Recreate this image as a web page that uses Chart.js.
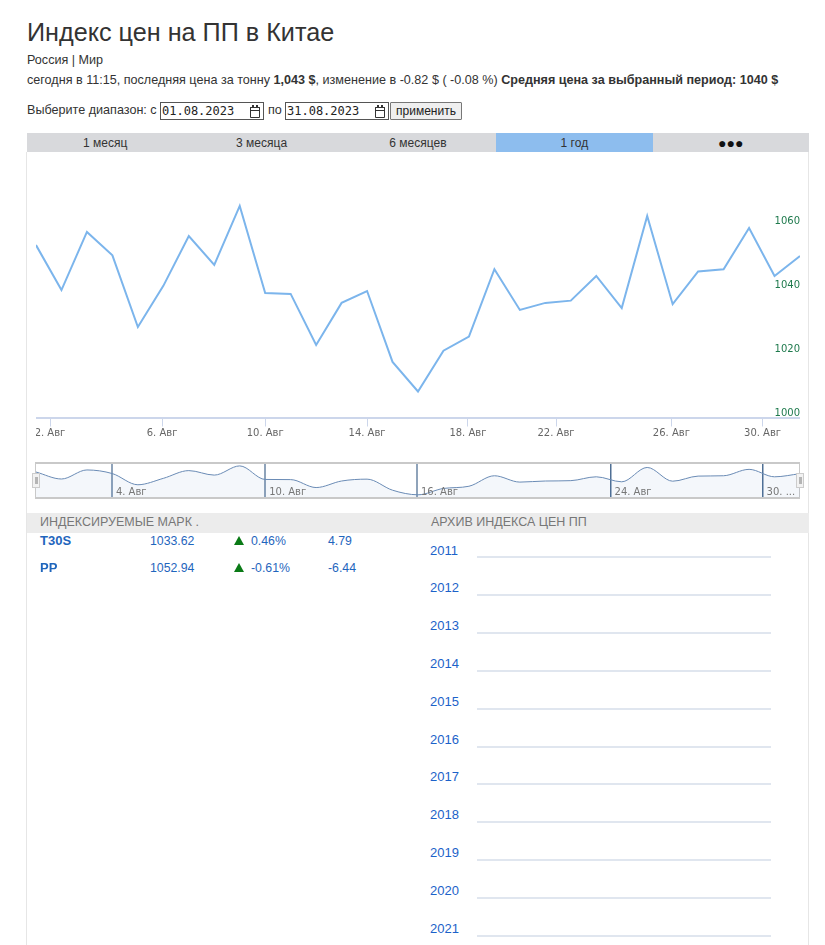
<!DOCTYPE html>
<html lang="ru">
<head>
<meta charset="UTF-8"/>
<title>Индекс цен на ПП в Китае</title>
<script src="https://cdn.jsdelivr.net/npm/chart.js@4/dist/chart.umd.min.js"></script>
<style>
  *{box-sizing:border-box;margin:0;padding:0}
  html,body{width:825px;height:945px;overflow:hidden;background:#fff}
  body{font-family:"Liberation Sans",Arial,sans-serif;font-size:12.6px;color:#333;position:relative}
  .abs{position:absolute;white-space:nowrap}
  h1{font-size:25.2px;font-weight:400;line-height:30px;color:#333}
  .frame-line{position:absolute;top:152px;width:1px;height:793px;background:#e6e6e6}
  .tabs{position:absolute;left:27px;top:133px;width:782px;height:19px;background:#d8d9dc;display:flex;font-size:12px}
  .tab{width:156.4px;text-align:center;line-height:20px;color:#333}
  .tab.on{background:#8dbdee}
  .tab.more{font-size:14px;color:#111}
  .field{position:absolute;top:102px;height:18px;border:1px solid #555;background:#fff;font:12px/16px "DejaVu Sans Mono",monospace;padding-left:1px;color:#222}
  .field svg{position:absolute;right:3px;top:2px}
  .btn{position:absolute;left:390px;top:102px;width:72px;height:18px;border:1px solid #777;border-radius:1px;background:#efefef;text-align:center;line-height:17px;color:#222;font-size:12px}
  canvas{position:absolute;display:block}
  #navFrame{position:absolute;left:35px;top:462px;width:765px;height:37px;border:solid #c9c9c9;border-width:2px 1px}
  .handle{position:absolute;top:473px;width:8px;height:15px;background:#f2f2f2;border:1px solid #ccc}
  .handle i{position:absolute;left:2px;top:3px;width:3px;height:7px;background:#b5b5b5}
  .bar{position:absolute;left:27px;top:513px;width:782px;height:20px;background:#ececec}
  .bar span{position:absolute;top:2px;color:#777;font-size:12.5px;white-space:nowrap}
  .cell{position:absolute;color:#1f66bd;white-space:nowrap;font-size:12.3px}
  b.cell{font-size:13px;margin-top:-1px}
  .tri{position:absolute;width:0;height:0;border-left:5px solid transparent;border-right:5px solid transparent;border-bottom:9px solid #0a7a16}
  .year{position:absolute;left:430px;color:#1c62c9;white-space:nowrap;font-size:13px}
  .rule{position:absolute;left:477px;width:294px;height:2px;background:#e0e6ef}
</style>
</head>
<body>

<h1 class="abs" style="left:27px;top:17px">Индекс цен на ПП в Китае</h1>
<div class="abs" style="left:27px;top:53px">Россия | Мир</div>
<div class="abs" style="left:27px;top:73px">сегодня в 11:15, последняя цена за тонну <b>1,043 $</b>, изменение в -0.82 $ ( -0.08 %) <b>Средняя цена за выбранный период: 1040 $</b></div>
<div class="abs" style="left:27px;top:103px">Выберите диапазон: с</div>
<div class="field" style="left:160px;width:104px">01.08.2023<svg width="10" height="13" viewBox="0 0 10 13"><path d="M.5 2.5h9v10h-9zM.5 2.5h9v3h-9z" fill="none" stroke="#333"/><path d="M2 0h2v3H2zM6 0h2v3H6z" fill="#333"/></svg></div>
<div class="abs" style="left:268px;top:103px">по</div>
<div class="field" style="left:285px;width:104px">31.08.2023<svg width="10" height="13" viewBox="0 0 10 13"><path d="M.5 2.5h9v10h-9zM.5 2.5h9v3h-9z" fill="none" stroke="#333"/><path d="M2 0h2v3H2zM6 0h2v3H6z" fill="#333"/></svg></div>
<div class="btn">применить</div>

<div class="tabs" id="tabs"></div>
<div class="frame-line" style="left:26px"></div>
<div class="frame-line" style="left:808px"></div>

<canvas id="priceChart" style="left:36px;top:152px" width="764" height="290"></canvas>
<div id="navFrame"></div>
<canvas id="navChart" style="left:36px;top:464px" width="764" height="33"></canvas>
<div class="handle" style="left:32px"><i></i></div>
<div class="handle" style="left:796px"><i></i></div>

<div class="bar"><span style="left:13px">ИНДЕКСИРУЕМЫЕ МАРК .</span><span style="left:404px">АРХИВ ИНДЕКСА ЦЕН ПП</span></div>
<div id="rows"></div>
<div id="archive"></div>

<script>
// ── Data ─────────────────────────────────────────────────────────────────────
const days = [1,2,3,4,5,6,7,8,9,10,11,12,13,14,15,16,17,18,19,20,21,22,23,24,25,26,27,28,29,30,31];
const prices = [1052.0,1038.0,1056.1,1048.8,1026.5,1039.3,1054.8,1045.8,1064.2,1037.1,1036.8,1020.9,1034.0,1037.7,1015.6,1006.4,
  1019.1,1023.5,1044.5,1031.8,1034.0,1034.7,1042.4,1032.4,1061.1,1033.6,1043.8,1044.5,1057.3,1042.4,1048.6];

const yTicks = [1000,1020,1040,1060];
const xTickDays = [1.55,5.95,10,14,17.96,21.42,25.95,29.53];
const xTickLabels = ["2. Авг","6. Авг","10. Авг","14. Авг","18. Авг","22. Авг","26. Авг","30. Авг"];
const navTickDays = [3.98,10,15.96,23.56,29.53];
const navTickLabels = ["4. Авг","10. Авг","16. Авг","24. Авг","30. ..."];

const tabs = ["1 месяц","3 месяца","6 месяцев","1 год","●●●"];
const grades = ["T30S","PP"];
const gradePrices = ["1033.62","1052.94"];
const gradePercents = ["0.46%","-0.61%"];
const gradeChanges = ["4.79","-6.44"];
const archiveYears = [2011,2012,2013,2014,2015,2016,2017,2018,2019,2020,2021];

// ── HTML parts ───────────────────────────────────────────────────────────────
document.getElementById("tabs").innerHTML = tabs.map((t, i) =>
  `<div class="tab${i === 3 ? " on" : ""}${i === 4 ? " more" : ""}">${t}</div>`).join("");

document.getElementById("rows").innerHTML = grades.map((g, i) => {
  const top = 534 + i * 27;
  return `<b class="cell" style="left:40px;top:${top}px">${g}</b>
    <div class="cell" style="left:150px;top:${top}px">${gradePrices[i]}</div>
    <div class="tri" style="left:234px;top:${top + 2}px"></div>
    <div class="cell" style="left:251px;top:${top}px">${gradePercents[i]}</div>
    <div class="cell" style="left:328px;top:${top}px">${gradeChanges[i]}</div>`;
}).join("");

document.getElementById("archive").innerHTML = archiveYears.map((y, i) => {
  const top = Math.round(542.5 + i * 37.8);
  return `<div class="year" style="top:${top}px">${y}</div>
    <div class="rule" style="top:${Math.round(556 + i * 37.9)}px"></div>`;
}).join("");

// ── Charts ───────────────────────────────────────────────────────────────────
const points = days.map((d, i) => ({ x: d, y: prices[i] }));
const axisFont = { family: "'DejaVu Sans',sans-serif", size: 10 };

new Chart(document.getElementById("priceChart"), {
  type: "line",
  data: { datasets: [{ data: points, borderColor: "#7cb5ec", borderWidth: 2, pointRadius: 0, tension: 0, clip: 2 }] },
  options: {
    responsive: false,
    animation: false,
    devicePixelRatio: 1,
    layout: { padding: 0 },
    plugins: { legend: { display: false }, tooltip: { enabled: false } },
    scales: {
      x: {
        type: "linear",
        min: 1,
        max: 31,
        afterBuildTicks: axis => { axis.ticks = xTickDays.map(v => ({ value: v })); },
        afterFit: axis => { axis.height = 24.5; axis.paddingLeft = 0; axis.paddingRight = 0; },
        border: { color: "#ccd6eb", width: 2 },
        grid: { drawOnChartArea: false, drawTicks: true, tickLength: 9, tickColor: "#ccd6eb", tickWidth: 1 },
        ticks: { autoSkip: false, maxRotation: 0, padding: 1, color: "#666", font: axisFont, callback: (v, i) => xTickLabels[i] },
      },
      y: {
        position: "right",
        min: 998.3,
        max: 1081,
        afterBuildTicks: axis => { axis.ticks = yTicks.map(v => ({ value: v })); },
        afterFit: axis => { axis.width = 0; axis.paddingTop = 0; axis.paddingBottom = 0; },
        border: { display: false },
        grid: { display: false },
        ticks: { mirror: true, padding: 0, labelOffset: 1.5, color: "#1f7a4d", font: axisFont, callback: v => String(v) },
      },
    },
  },
});

// navigator labels sit inside the plot, so they are drawn after the datasets
const navLabels = {
  id: "navLabels",
  afterDatasetsDraw(chart) {
    const { ctx, scales } = chart;
    ctx.save();
    ctx.font = "10px 'DejaVu Sans',sans-serif";
    ctx.fillStyle = "#777";
    ctx.textBaseline = "middle";
    navTickLabels.forEach((t, i) => ctx.fillText(t, scales.x.getPixelForValue(navTickDays[i]) + 4, 28));
    ctx.restore();
  },
};

new Chart(document.getElementById("navChart"), {
  type: "line",
  plugins: [navLabels],
  data: { datasets: [{ data: points, borderColor: "#6a8bb5", borderWidth: 1, pointRadius: 0, cubicInterpolationMode: "monotone", fill: "start", backgroundColor: "rgba(60,120,180,0.06)" }] },
  options: {
    responsive: false,
    animation: false,
    devicePixelRatio: 1,
    layout: { padding: 0 },
    plugins: { legend: { display: false }, tooltip: { enabled: false } },
    scales: {
      x: {
        type: "linear",
        min: 1,
        max: 31,
        afterBuildTicks: axis => { axis.ticks = navTickDays.map(v => ({ value: v })); },
        afterFit: axis => { axis.height = 0; axis.paddingLeft = 0; axis.paddingRight = 0; },
        border: { display: false },
        grid: {
          drawTicks: false,
          color: ctx => (ctx.index < 3 ? "#8fa3ba" : "#4f6f94"),
          lineWidth: ctx => (ctx.index < 3 ? 2 : 1.5),
        },
        ticks: { display: false },
      },
      y: { display: false, min: 1002, max: 1068 },
    },
  },
});
</script>
</body>
</html>
